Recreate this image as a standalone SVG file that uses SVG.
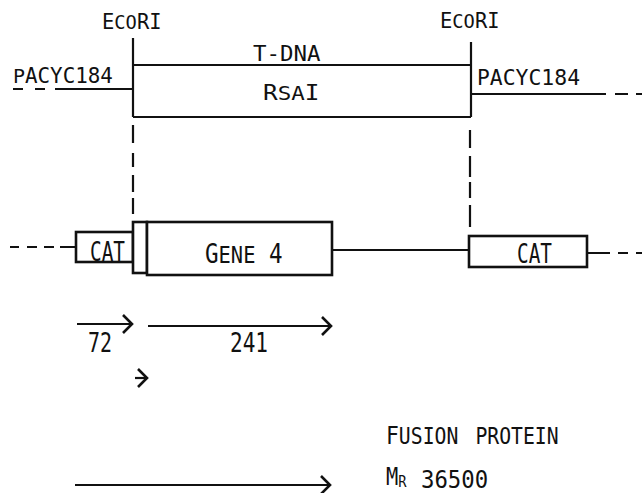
<svg xmlns="http://www.w3.org/2000/svg" width="642" height="493" viewBox="0 0 642 493">
<defs>
<style>
.ln{stroke:#111;stroke-width:2.2;fill:none;stroke-linecap:butt}
.bx{stroke:#111;stroke-width:2.6;fill:#fff}
.t{font-family:"DejaVu Sans Mono","Liberation Mono",monospace;fill:#111;font-variant:small-caps}
.s20{font-size:21px}
.s25{font-size:26px}
.s23{font-size:24px}
</style>
<marker id="chev" markerUnits="userSpaceOnUse" markerWidth="20" markerHeight="24" refX="0" refY="0" viewBox="-12 -12 14 24" orient="auto" overflow="visible">
<path d="M-9,-9 L0,0 L-9,9" fill="none" stroke="#111" stroke-width="2.6"/>
</marker>
</defs>
<rect width="642" height="493" fill="#fff"/>

<g id="connectors">
<path class="ln" d="M13,89 H23 M35,89 H45 M55,89 H133"/>
<path class="ln" d="M471,94 H606 M615,94 H628 M636,94 H642"/>
<path class="ln" d="M133,38 V117"/>
<path class="ln" d="M471,42 V117"/>
<path class="ln" d="M133,125 V143 M133,153 V167 M133,175 V192 M133,198 V214"/>
<path class="ln" d="M470,130 V148 M470,156 V177 M470,182 V198 M470,205 V227"/>
<path class="ln" d="M10,247 H19 M27,247 H37 M44,247 H54 M60,247 H76"/>
<path class="ln" d="M332,250 H469"/>
<path class="ln" d="M587,253 H610 M618,253 H628 M636,253 H642"/>
<path class="ln" d="M77,324 H132" marker-end="url(#chev)"/>
<path class="ln" d="M148,326 H331" marker-end="url(#chev)"/>
<path class="ln" d="M135,378 H147" marker-end="url(#chev)"/>
<path class="ln" d="M75,485 H330" marker-end="url(#chev)"/>
</g>

<g id="tdna">
<path class="ln" d="M133,65 H471 M133,117 H471"/>
<text class="t s20" transform="translate(253,61) scale(1.07,1)">T-DNA</text>
<text class="t s20" transform="translate(263,100) scale(1.16,1)">R<tspan font-size="28">sa</tspan>I</text>
</g>

<g id="ecori-left">
<text class="t s20" transform="translate(102,29) scale(0.975,1)">E<tspan font-size="28">co</tspan>RI</text>
</g>
<g id="ecori-right">
<text class="t s20" transform="translate(440,28) scale(0.975,1)">E<tspan font-size="28">co</tspan>RI</text>
</g>
<g id="pacyc-left">
<text class="t s20" transform="translate(13,83) scale(0.993,1)"><tspan font-size="29">p</tspan>ACYC184</text>
</g>
<g id="pacyc-right">
<text class="t s20" transform="translate(477,85) scale(1.02,1)"><tspan font-size="29">p</tspan>ACYC184</text>
</g>

<g id="cat-left">
<rect class="bx" x="76" y="232" width="57" height="30"/>
<text class="t s25" transform="translate(90,261) scale(0.745,1)">CAT</text>
</g>
<g id="linker">
<rect class="bx" x="133" y="222" width="14" height="51"/>
</g>
<g id="gene4">
<rect class="bx" x="147" y="222" width="185" height="53"/>
<text class="t s25" transform="translate(205,263) scale(0.868,1)">G<tspan font-size="33">ene</tspan> 4</text>
</g>
<g id="cat-right">
<rect class="bx" x="469" y="236" width="118" height="31"/>
<text class="t s25" transform="translate(517,263) scale(0.745,1)">CAT</text>
</g>

<g id="labels">
<text class="t s25" transform="translate(88,352) scale(0.767,1)">72</text>
<text class="t s25" transform="translate(230,352) scale(0.81,1)">241</text>
<text class="t s23" transform="translate(386,444) scale(0.89,1)">F<tspan font-size="32">usion protein</tspan></text>
<text class="t s23" transform="translate(386,485) scale(0.85,1)">M<tspan font-size="23" dy="2">r</tspan></text>
<text class="t s23" transform="translate(421,488) scale(0.93,1)">36500</text>
</g>
</svg>
